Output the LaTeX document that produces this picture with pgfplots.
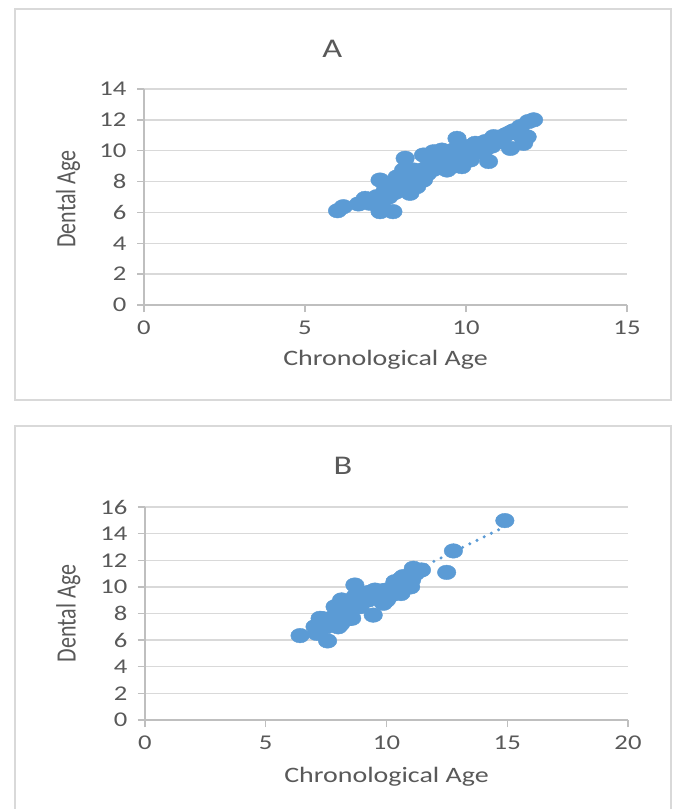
\documentclass[border=0pt]{standalone}
\usepackage{graphicx}
\usepackage{pgfplots}
\pgfplotsset{compat=1.18}
\usepackage{fontspec}
\setmainfont{Carlito}[FakeStretch=1.27]
\newfontfamily\plainfont{Carlito}
\definecolor{dotblue}{HTML}{5B9BD5}
\definecolor{txtgray}{HTML}{595959}
\definecolor{gridgray}{HTML}{D9D9D9}
\definecolor{axgray}{HTML}{BFBFBF}

\pgfplotsset{
  excel/.style={
    scale only axis,
    axis lines*=left,
    axis line style={axgray, line width=1.3bp},
    ymajorgrids, grid style={gridgray, line width=1.3bp},
    tick align=outside, major tick length=7bp,
    tick style={axgray, line width=1.3bp},
    /pgf/number format/assume math mode=true,
    tick label style={font=\fontsize{21bp}{23bp}\selectfont, text=txtgray},
    xticklabel style={yshift=-5bp},
    yticklabel style={xshift=-7bp},
    label style={font=\fontsize{22bp}{24bp}\selectfont, text=txtgray},
    title style={font=\fontsize{27bp}{30bp}\selectfont, text=txtgray},
    ylabel={\plainfont\scalebox{1}[1.27]{Dental Age}},
    xlabel={Chronological Age},
  },
  dots/.style={only marks, mark=*, mark size=7.3bp,
    mark options={xscale=1.27, fill=dotblue, draw=dotblue}},
}

\begin{document}
\begin{tikzpicture}
\useasboundingbox (0,0) rectangle (676bp,-809bp);
\fill[white] (0,0) rectangle (676bp,-809bp);
\draw[gridgray, line width=2bp] (15bp,-9bp) rectangle (671bp,-400bp);
\draw[gridgray, line width=2bp] (15bp,-815bp) -- (15bp,-425.5bp) -- (671bp,-425.5bp) -- (671bp,-815bp);

% panel A
\begin{axis}[excel,
  at={(144bp,-305bp)}, anchor=south west,
  width=483bp, height=216bp,
  xmin=0, xmax=15, ymin=0, ymax=14,
  xtick={0,5,10,15}, ytick={0,2,...,14},
  title={A},
  title style={at={(axis description cs:0.39,1.16)}, anchor=center},
  xlabel style={at={(axis description cs:0.5,-0.255)}, anchor=center},
  ylabel style={at={(axis description cs:-0.157,0.49)}, anchor=center},
]
\addplot[dots] coordinates {
(6.01,6.11) (6.19,6.37) (6.66,6.55) (6.87,6.91) (7.33,6.05) (7.29,6.37)
(7.73,6.05) (7.33,8.10) (7.44,7.13) (7.23,7.02) (7.65,7.45) (7.86,8.30)
(7.97,7.67) (8.11,9.51) (8.16,8.10) (8.26,7.24) (8.37,8.75) (8.58,8.53)
(8.68,8.10) (8.78,8.86) (8.47,7.67) (8.06,8.75) (7.86,7.88) (8.68,9.72)
(8.99,9.93) (9.25,10.04) (9.09,9.40) (9.41,8.75) (9.46,9.51) (9.72,10.80)
(9.61,10.04) (9.82,9.62) (9.87,8.97) (10.02,10.26) (10.13,9.40) (10.29,10.48)
(10.45,9.93) (10.60,10.59) (10.70,9.30) (10.86,10.91) (11.07,10.59) (11.38,10.15)
(11.43,11.24) (11.69,11.56) (11.84,10.80) (11.79,10.48) (12.10,12.00) (11.94,11.89)
(7.50,7.50) (7.60,7.00) (7.80,7.30) (7.90,8.00) (8.00,7.60) (8.10,8.40)
(8.20,7.90) (8.30,8.30) (8.40,8.00) (8.50,8.60) (8.60,8.30) (8.80,8.50)
(8.90,9.00) (9.00,9.30) (9.10,8.90) (9.20,9.60) (9.30,9.20) (9.40,9.70)
(9.50,9.30) (9.60,9.50) (9.70,9.80) (9.80,9.30) (9.90,10.10) (10.00,9.70)
(10.10,10.10) (10.20,10.30) (10.30,9.90) (10.40,10.40) (10.50,10.20) (10.60,10.10)
(10.70,10.50) (10.80,10.30) (11.00,10.80) (11.20,11.00) (11.50,11.30) (11.90,10.90)
(7.00,6.60) (7.20,6.60) (7.40,6.80) (7.40,6.30) (9.20,9.00) (9.60,9.00)
(7.70,7.80) (8.00,8.20) (8.30,7.60) (8.70,8.80) (9.00,8.80) (9.30,9.80)
(9.70,9.20) (10.00,10.00) (10.30,10.20) (10.90,10.60) (11.30,11.10) (11.70,11.00)
};
\end{axis}

% panel B
\begin{axis}[excel,
  at={(145bp,-720bp)}, anchor=south west,
  width=483bp, height=213bp,
  xmin=0, xmax=20, ymin=0, ymax=16,
  xtick={0,5,10,15,20}, ytick={0,2,...,16},
  title={B},
  title style={at={(axis description cs:0.41,1.165)}, anchor=center},
  xlabel style={at={(axis description cs:0.5,-0.268)}, anchor=center},
  ylabel style={at={(axis description cs:-0.159,0.5)}, anchor=center},
]
\addplot[dotblue, line width=3.4bp, line cap=round, dash pattern=on 0bp off 8bp]
  coordinates {(7.20,7.69) (14.90,14.52)};
\addplot[dots] coordinates {
(6.42,6.34) (7.56,5.94) (7.04,7.01) (7.11,6.51) (7.25,7.64) (7.66,7.26)
(8.00,7.00) (7.87,8.51) (8.14,9.02) (8.56,7.64) (8.69,10.14) (8.63,9.02)
(8.35,8.26) (9.04,9.26) (9.45,7.88) (9.52,9.76) (9.73,9.26) (10.00,9.76)
(10.28,9.51) (10.35,10.39) (10.69,10.77) (10.90,10.14) (11.11,11.40) (11.45,11.27)
(12.49,11.09) (12.77,12.70) (14.90,14.98) (9.25,9.02) (8.90,8.51) (9.87,8.77)
(10.56,9.76) (11.04,10.52)
(7.30,7.20) (7.50,7.00) (7.60,7.50) (7.80,7.30) (7.90,7.90) (8.00,7.60)
(8.10,8.30) (8.20,8.00) (8.30,8.70) (8.40,8.20) (8.50,8.90) (8.60,8.50)
(8.70,9.30) (8.80,8.90) (8.90,9.60) (9.00,9.00) (9.10,9.40) (9.30,9.60)
(9.40,9.20) (9.60,9.50) (9.80,9.70) (9.90,9.30) (10.10,9.80) (10.20,9.40)
(10.40,10.00) (10.50,9.70) (10.70,10.30) (10.80,10.00) (11.00,10.90) (11.20,11.00)
(10.60,10.60) (7.20,6.80) (7.40,7.60) (8.10,7.20) (8.40,7.60) (10.00,9.00)
(10.60,9.50) (11.00,10.00)
};
\end{axis}
\end{tikzpicture}
\end{document}
